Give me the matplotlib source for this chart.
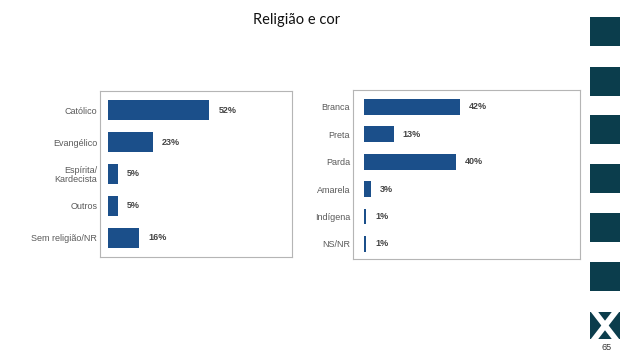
import matplotlib.pyplot as plt
from matplotlib.patches import Rectangle

# Religião e cor - two horizontal bar panels

religioes = ['Católico', 'Evangélico', 'Espírita/\nKardecista', 'Outros', 'Sem religião/NR']
religiao_pct = [52, 23, 5, 5, 16]

cores = ['Branca', 'Preta', 'Parda', 'Amarela', 'Indígena', 'NS/NR']
cor_pct = [42, 13, 40, 3, 1, 1]

W, H = 638, 359
bar_color = '#1b4f8a'
label_color = '#5a5a5a'
side_color = '#0b3d4c'

fig = plt.figure(figsize=(W / 100, H / 100), dpi=100)

# background layer in pixel coordinates for the decorations
bg = fig.add_axes([0, 0, 1, 1], zorder=0)
bg.set_xlim(0, W)
bg.set_ylim(H, 0)
bg.axis('off')

for top in [17, 67, 115, 164, 213, 262]:
    bg.add_patch(Rectangle((590, top), 30, 29, color=side_color, lw=0))
logo = Rectangle((590, 312), 30, 27, color=side_color, lw=0)
bg.add_patch(logo)
# white X of the logo drawn as two thick strokes, clipped to the square
for xs in ([593, 617], [617, 593]):
    ln, = bg.plot(xs, [310, 341], color='white', lw=4.2, solid_capstyle='butt')
    ln.set_clip_path(logo)
bg.text(607, 347, '65', fontsize=6.5, color='#333333', ha='center', va='center',
        family='Liberation Sans')
bg.text(297, 20, 'Religião e cor', fontsize=10.5, ha='center', va='center',
        family='Lato', color='#111111')


def panel(rect, labels, values, xlim, ylim, height):
    x, y, w, h = rect
    ax = fig.add_axes([x / W, 1 - (y + h) / H, w / W, h / H], zorder=1)
    pos = list(range(len(labels)))
    ax.barh(pos, values, height=height, color=bar_color)
    for p, v in zip(pos, values):
        ax.annotate(f'{v}%', (v, p), xytext=(6.5, 0), textcoords='offset points',
                    ha='left', va='center', fontsize=6.5, fontweight='bold',
                    color='#444444', family='Liberation Sans')
    ax.set_xlim(*xlim)
    ax.set_ylim(*ylim)
    ax.set_xticks([])
    ax.set_yticks(pos)
    ax.set_yticklabels(labels, fontsize=6.5, color=label_color, family='Liberation Sans',
                       linespacing=1.0)
    ax.tick_params(axis='y', length=0, pad=2)
    for s in ax.spines.values():
        s.set_color('#b5b5b5')
        s.set_linewidth(0.8)
    return ax


panel((100, 91, 192, 166), religioes, religiao_pct, (-4.1, 94.4), (4.6, -0.6), 0.625)
panel((353, 90, 227, 169), cores, cor_pct, (-4.8, 94.3), (5.55, -0.62), 0.58)

fig.savefig('out.png', dpi=100)
